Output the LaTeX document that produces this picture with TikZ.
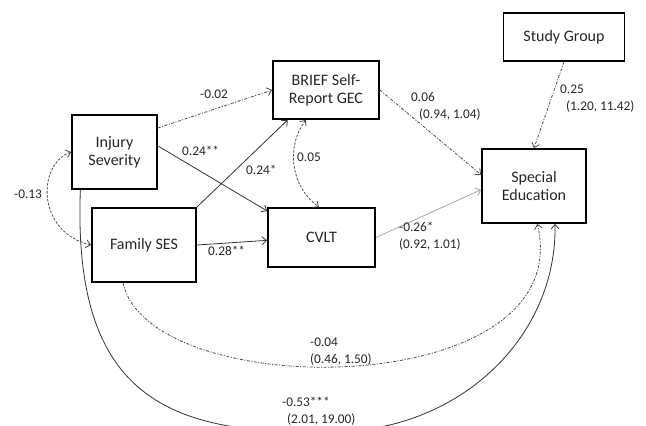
\documentclass[tikz,border=0pt]{standalone}
\usepackage{fontspec}
\setmainfont{Carlito}
\usetikzlibrary{arrows.meta}

\begin{document}
\begin{tikzpicture}[x=1pt, y=1pt, >={Straight Barb[length=4.5pt, width=8pt]}]
    \tikzstyle{var} = [rectangle, draw=black, line width=1.8pt, inner sep=0pt, align=center, text=black!85, font=\fontsize{16}{18}\selectfont]
    \tikzstyle{coef} = [inner sep=0pt, align=left, anchor=north west, text=black!85, font=\fontsize{13.3}{17}\selectfont]
    \tikzstyle{path_sig} = [line width=0.8pt, black!80]
    \tikzstyle{path_ns} = [line width=0.8pt, black!70, dash pattern=on 3pt off 1.5pt on 1pt off 1.5pt]
    \tikzstyle{path_cov} = [line width=0.8pt, black!70, dash pattern=on 2.5pt off 1.5pt]

    \useasboundingbox (0,0) rectangle (646,-426);

    % Predictors
    \node [var, minimum width=85pt, minimum height=74pt] (injury_sev) at (114.5,-152) {Injury\\Severity};
    \node [var, minimum width=104pt, minimum height=74pt] (family_ses) at (144,-245) {Family SES};

    % Mediators
    \node [var, minimum width=106pt, minimum height=58pt] (brief_gec) at (326,-90) {BRIEF Self-\\Report GEC};
    \node [var, minimum width=107pt, minimum height=59pt] (cvlt) at (321.5,-237.5) {CVLT};

    % Outcome and group
    \node [var, minimum width=104pt, minimum height=74pt] (special_ed) at (534,-186) {Special\\Education};
    \node [var, minimum width=121pt, minimum height=48pt] (study_group) at (564,-37) {Study Group};

    % Paths to mediators
    \draw [->, path_ns] (injury_sev.29) -- (brief_gec.west);
    \draw [->, path_sig] (injury_sev.8) -- (cvlt.154);
    \draw [->, path_sig] (family_ses.north east) -- (brief_gec.218);
    \draw [->, path_sig] (family_ses.east) -- (cvlt.183);
    \draw [<->, path_cov] (brief_gec.236) to[bend right=45] (cvlt.95);
    \draw [<->, path_cov] (injury_sev.west) .. controls +(-34,-12) and +(-55,13) .. (family_ses.west);

    % Paths to outcome
    \draw [->, path_ns] (brief_gec.east) -- (special_ed.168);
    \draw [->, path_ns] (study_group.south) -- (special_ed.north);
    \draw [->, line width=0.8pt, black!35] (cvlt.east) -- (special_ed.184);
    \draw [->, path_ns] (family_ses.241) .. controls +(27,-122) and +(42,-178) .. (special_ed.-85);
    \coordinate (low_point) at (330,-432);
    \draw [->, path_sig] (injury_sev.228) .. controls +(-8,-209) and +(-160,-3) .. (low_point)
        .. controls +(130,0) and +(2,-113) .. (special_ed.-61);

    % Coefficients
    \node [coef] (c_inj_brief) at (200,-90) {-0.02};
    \node [coef] (c_inj_cvlt) at (182,-146) {0.24**};
    \node [coef] (c_fam_brief) at (246,-165) {0.24*};
    \node [coef] (c_brief_cvlt) at (297,-153) {0.05};
    \node [coef] (c_fam_cvlt) at (208,-246) {0.28**};
    \node [coef] (c_inj_fam) at (14,-190) {-0.13};
    \node [coef] (c_brief_sped) at (411,-92) {0.06\\\hspace*{8pt}(0.94, 1.04)};
    \node [coef] (c_group_sped) at (560,-85) {0.25\\\hspace*{6pt}(1.20, 11.42)};
    \node [coef] (c_cvlt_sped) at (399,-222) {-0.26*\\(0.92, 1.01)};
    \node [coef] (c_fam_sped) at (310,-338) {-0.04\\(0.46, 1.50)};
    \node [coef] (c_inj_sped) at (282,-397) {-0.53***\\\hspace*{5pt}(2.01, 19.00)};
\end{tikzpicture}
\end{document}
